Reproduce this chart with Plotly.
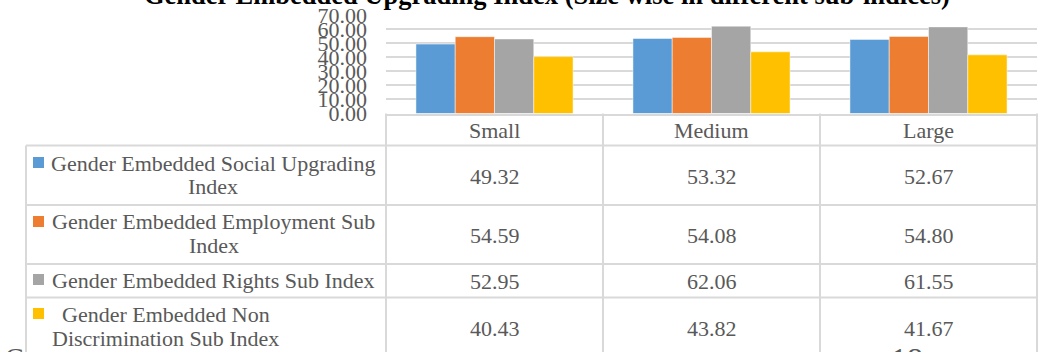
import plotly.graph_objects as go

# ---- data -------------------------------------------------------------
categories = ["Small", "Medium", "Large"]
tick_values = [0, 10, 20, 30, 40, 50, 60, 70]

social_upgrading = [49.32, 53.32, 52.67]
employment_sub = [54.59, 54.08, 54.80]
rights_sub = [52.95, 62.06, 61.55]
non_discrimination_sub = [40.43, 43.82, 41.67]

# table row labels, as they wrap in the data table
row_label_lines = [
    ["Gender Embedded Social Upgrading", "Index"],
    ["Gender Embedded Employment Sub", "Index"],
    ["Gender Embedded Rights Sub Index"],
    ["Gender Embedded Non", "Discrimination Sub Index"],
]
title_text = "Gender Embedded Upgrading Index (Size wise in different sub-indices)"

series_values = [social_upgrading, employment_sub, rights_sub, non_discrimination_sub]
series_colors = ["#5B9BD5", "#ED7D31", "#A5A5A5", "#FFC000"]

# ---- layout helpers ---------------------------------------------------
W, H = 1045, 352
FONT = "Liberation Serif"
TXT = "#595959"
LINE = "#D9D9D9"


def px(x):
    return x / W


def py(y):
    return 1 - y / H


plot_left, plot_right = 386, 1037
plot_top, plot_bottom = 15, 113.5
table_left = 26
header_bottom = 145.5
row_edges = [145.5, 205, 264, 297.5, 360]
col_edges = [386, 603, 820, 1037]

fig = go.Figure()
for values, color in zip(series_values, series_colors):
    fig.add_trace(go.Bar(
        x=categories, y=values,
        marker=dict(color=color, line=dict(color="rgba(255,255,255,0.6)", width=0.8)),
        hoverinfo="skip",
    ))

shapes = []
# table grid
for y in row_edges[:-1]:
    shapes.append(dict(type="line", xref="paper", yref="paper",
                       x0=px(table_left), x1=px(plot_right), y0=py(y), y1=py(y),
                       line=dict(color=LINE, width=2)))
for x in col_edges:
    shapes.append(dict(type="line", xref="paper", yref="paper",
                       x0=px(x), x1=px(x), y0=py(plot_bottom), y1=py(row_edges[-1]),
                       line=dict(color=LINE, width=2)))
shapes.append(dict(type="line", xref="paper", yref="paper",
                   x0=px(table_left), x1=px(table_left), y0=py(header_bottom), y1=py(row_edges[-1]),
                   line=dict(color=LINE, width=2)))

annotations = []
# title
annotations.append(dict(text="<b>" + title_text + "</b>", xref="paper", yref="paper",
                        x=px(547), y=py(-5), xanchor="center", yanchor="middle",
                        showarrow=False, font=dict(family=FONT, size=26.5, color="#000000")))
# header row with category names
for cat in categories:
    annotations.append(dict(text=cat, xref="x", yref="paper", x=cat, y=py(137 - 7),
                            xanchor="center", yanchor="middle", showarrow=False,
                            font=dict(family=FONT, size=22, color=TXT)))

# row label layout: (legend square top, [(line start x, baseline y, anchor)])
row_layout = [
    (157, [(213, 170, "center"), (213, 193, "center")]),
    (216, [(213, 228, "center"), (214, 252, "center")]),
    (274, [(50, 287, "left")]),
    (308, [(60, 321, "left"), (50, 345, "left")]),
]
row_value_baselines = [183, 242, 288, 335]

for r, (lines, (sq_top, line_pos)) in enumerate(zip(row_label_lines, row_layout)):
    shapes.append(dict(type="rect", xref="paper", yref="paper",
                       x0=px(33), x1=px(44), y0=py(sq_top), y1=py(sq_top + 11),
                       fillcolor=series_colors[r], line=dict(width=0)))
    for text, (lx, base, anchor) in zip(lines, line_pos):
        annotations.append(dict(text=text, xref="paper", yref="paper",
                                x=px(lx), y=py(base - 7), xanchor=anchor, yanchor="middle",
                                showarrow=False, font=dict(family=FONT, size=22, color=TXT)))
    for cat, v in zip(categories, series_values[r]):
        annotations.append(dict(text=f"{v:.2f}", xref="x", yref="paper",
                                x=cat, y=py(row_value_baselines[r] - 7),
                                xanchor="center", yanchor="middle", showarrow=False,
                                font=dict(family=FONT, size=22, color=TXT)))

# page fragments below the chart
annotations.append(dict(text="C", xref="paper", yref="paper", x=px(3), y=py(357),
                        xanchor="left", yanchor="middle", showarrow=False,
                        font=dict(family=FONT, size=28, color=TXT)))
annotations.append(dict(text="18", xref="paper", yref="paper", x=px(889), y=py(359),
                        xanchor="left", yanchor="middle", showarrow=False,
                        font=dict(family=FONT, size=32, color=TXT)))

fig.update_layout(
    width=W, height=H,
    margin=dict(l=0, r=0, t=0, b=0, autoexpand=False),
    paper_bgcolor="white", plot_bgcolor="white",
    showlegend=False,
    barmode="group", bargap=0.276, bargroupgap=0,
    shapes=shapes, annotations=annotations,
    xaxis=dict(domain=[px(plot_left), px(plot_right)], showticklabels=False,
               showgrid=False, zeroline=False, showline=True, linecolor=LINE, linewidth=2,
               automargin=False, fixedrange=True),
    yaxis=dict(domain=[py(plot_bottom), py(plot_top)], range=[0, 70],
               tickvals=tick_values, ticktext=[f"{t:.2f}" for t in tick_values],
               tickfont=dict(family=FONT, size=22, color=TXT),
               ticklabelstandoff=18, automargin=False,
               showgrid=True, gridcolor=LINE, gridwidth=1.5,
               zeroline=False, showline=False, fixedrange=True),
)

fig.write_html("out.html")
